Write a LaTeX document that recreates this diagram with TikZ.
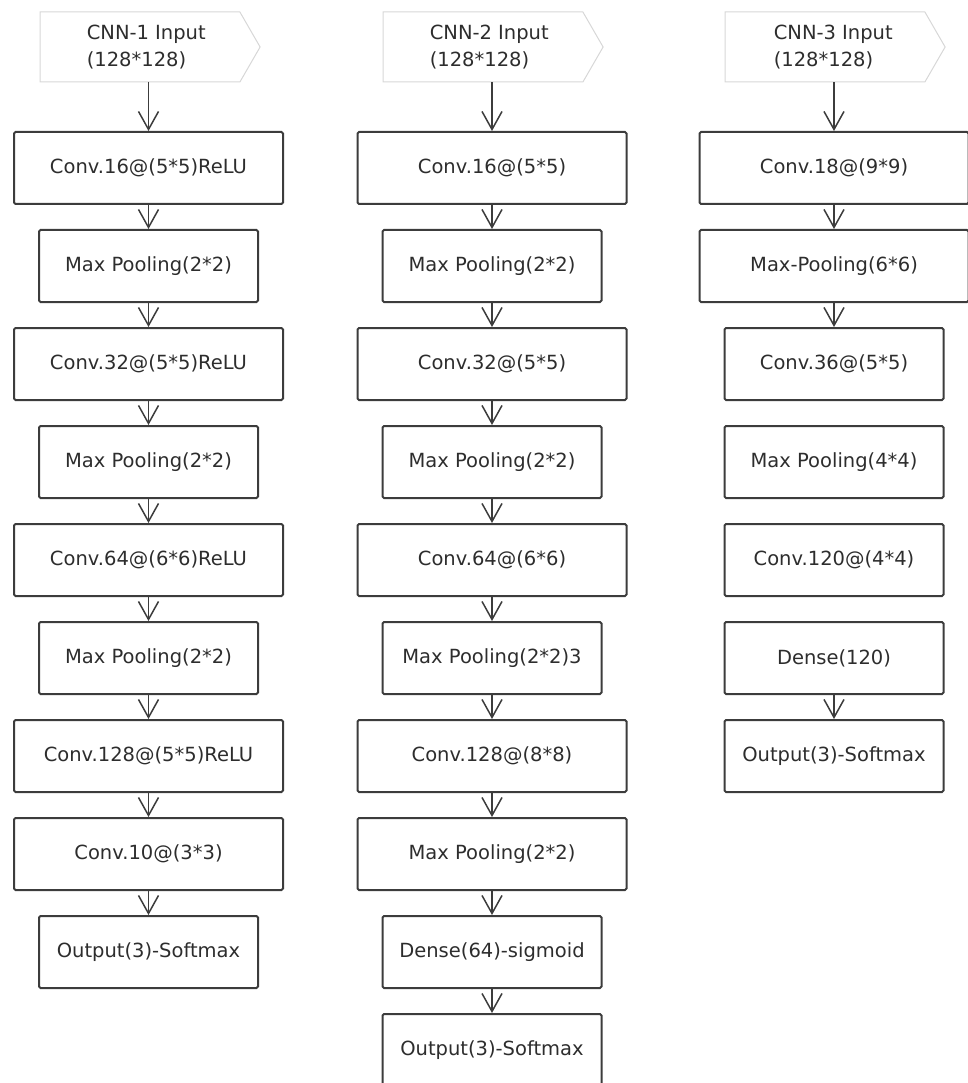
\documentclass[tikz,border=0pt]{standalone}
\usepackage{fontspec}
\setmainfont{DejaVu Sans}
\usetikzlibrary{shapes.symbols,arrows.meta,positioning,calc}
\definecolor{boxgray}{RGB}{60,60,60}
\definecolor{textgray}{RGB}{45,45,45}
\definecolor{inputgray}{RGB}{215,215,215}

\begin{document}
\begin{tikzpicture}[x=1pt, y=1pt,
    font=\fontsize{19.5}{27}\selectfont, text=textgray,
    wide/.style={draw=boxgray, line width=2pt, rounded corners=1.5pt, minimum width=269pt, minimum height=72pt},
    narrow/.style={wide, minimum width=219pt},
    inbox/.style={signal, signal to=east, signal pointer angle=120, draw=inputgray, line width=1pt, minimum width=220pt, minimum height=70pt},
    intext/.style={align=left, anchor=west, inner sep=0pt},
    flow/.style={draw=boxgray, line width=1.5pt, -{Straight Barb[length=18pt,width=20pt,line width=1.5pt]}},
    node distance=24pt
]
    \useasboundingbox (0,0) rectangle (968,-1083);

    % Input blocks
    \node[inbox] (in1) at (140,-47) {};
    \node[inbox] (in2) at (483,-47) {};
    \node[inbox] (in3) at (825,-47) {};
    \node[intext] (in1t) at ([xshift=47pt]in1.west) {CNN-1 Input\\(128*128)};
    \node[intext] (in2t) at ([xshift=47pt]in2.west) {CNN-2 Input\\(128*128)};
    \node[intext] (in3t) at ([xshift=49pt]in3.west) {CNN-3 Input\\(128*128)};

    % CNN-1
    \node[wide] (c1a) at (148.5,-168) {Conv.16@(5*5)ReLU};
    \node[narrow, below=of c1a] (c1b) {Max Pooling(2*2)};
    \node[wide, below=of c1b] (c1c) {Conv.32@(5*5)ReLU};
    \node[narrow, below=of c1c] (c1d) {Max Pooling(2*2)};
    \node[wide, below=of c1d] (c1e) {Conv.64@(6*6)ReLU};
    \node[narrow, below=of c1e] (c1f) {Max Pooling(2*2)};
    \node[wide, below=of c1f] (c1g) {Conv.128@(5*5)ReLU};
    \node[wide, below=of c1g] (c1h) {Conv.10@(3*3)};
    \node[narrow, below=of c1h] (c1i) {Output(3)-Softmax};

    % CNN-2
    \node[wide] (c2a) at (492,-168) {Conv.16@(5*5)};
    \node[narrow, below=of c2a] (c2b) {Max Pooling(2*2)};
    \node[wide, below=of c2b] (c2c) {Conv.32@(5*5)};
    \node[narrow, below=of c2c] (c2d) {Max Pooling(2*2)};
    \node[wide, below=of c2d] (c2e) {Conv.64@(6*6)};
    \node[narrow, below=of c2e] (c2f) {Max Pooling(2*2)3};
    \node[wide, below=of c2f] (c2g) {Conv.128@(8*8)};
    \node[wide, below=of c2g] (c2h) {Max Pooling(2*2)};
    \node[narrow, below=of c2h] (c2i) {Dense(64)-sigmoid};
    \node[narrow, below=of c2i] (c2j) {Output(3)-Softmax};

    % CNN-3
    \node[wide] (c3a) at (834,-168) {Conv.18@(9*9)};
    \node[wide, below=of c3a] (c3b) {Max-Pooling(6*6)};
    \node[narrow, below=of c3b] (c3c) {Conv.36@(5*5)};
    \node[narrow, below=of c3c] (c3d) {Max Pooling(4*4)};
    \node[narrow, below=of c3d] (c3e) {Conv.120@(4*4)};
    \node[narrow, below=of c3e] (c3f) {Dense(120)};
    \node[narrow, below=of c3f] (c3g) {Output(3)-Softmax};

    % Arrows
    \draw[flow] (c1a.north |- in1.south) -- (c1a.north);
    \draw[flow] (c2a.north |- in2.south) -- (c2a.north);
    \draw[flow] (c3a.north |- in3.south) -- (c3a.north);
    \foreach \a/\b in {c1a/c1b, c1b/c1c, c1c/c1d, c1d/c1e, c1e/c1f, c1f/c1g, c1g/c1h, c1h/c1i,
                       c2a/c2b, c2b/c2c, c2c/c2d, c2d/c2e, c2e/c2f, c2f/c2g, c2g/c2h, c2h/c2i, c2i/c2j,
                       c3a/c3b, c3b/c3c, c3f/c3g}
        \draw[flow] (\a) -- (\b);
\end{tikzpicture}
\end{document}
